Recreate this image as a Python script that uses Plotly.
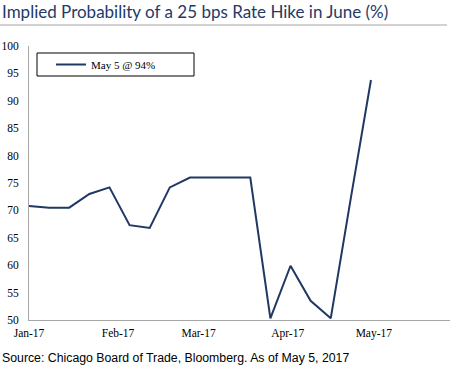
import plotly.graph_objects as go

dates = ["2017-01-06", "2017-01-13", "2017-01-20", "2017-01-27", "2017-02-03",
         "2017-02-10", "2017-02-17", "2017-02-24", "2017-03-03", "2017-03-10",
         "2017-03-17", "2017-03-24", "2017-03-31", "2017-04-07", "2017-04-14",
         "2017-04-21", "2017-04-28", "2017-05-05"]
probability = [70.8, 70.5, 70.5, 73.0, 74.2, 67.3, 66.8, 74.2, 76.0, 76.0,
               76.0, 76.0, 50.3, 59.9, 53.5, 50.3, 72.3, 93.8]
series_name = "May 5 @ 94%"
title_text = "Implied Probability of a 25 bps Rate Hike in June (%)"
source_text = "Source: Chicago Board of Trade, Bloomberg. As of May 5, 2017"

W, H = 450, 369
L, R, T, B = 29, 0, 46, 49
pw, ph = W - L - R, H - T - B

def px(x):
    return (x - L) / pw

def py(y):
    return (H - B - y) / ph

fig = go.Figure()
fig.add_trace(go.Scatter(
    x=dates, y=probability, mode="lines", name=series_name,
    line=dict(color="#1f3864", width=2),
))

serif = "Liberation Serif"
fig.update_layout(
    width=W, height=H,
    margin=dict(l=L, r=R, t=T, b=B),
    paper_bgcolor="white", plot_bgcolor="white",
    showlegend=True,
    legend=dict(
        x=px(51), y=py(64.5), xanchor="left", yanchor="middle",
        bgcolor="rgba(0,0,0,0)", borderwidth=0,
        font=dict(family=serif, size=11, color="#000000"),
        itemwidth=30,
    ),
    xaxis=dict(
        type="date",
        range=["2017-01-06", "2017-06-01 12:00"],
        tick0="2017-01-06", dtick="M1", tickformat="%b-%y",
        showgrid=False, zeroline=False,
        showline=True, linecolor="#a6a6a6", linewidth=1,
        ticks="outside", ticklen=2, tickcolor="rgba(0,0,0,0)",
        tickfont=dict(family=serif, size=11.5, color="#000000"),
    ),
    yaxis=dict(
        range=[50, 100], dtick=5, tick0=50,
        showgrid=False, zeroline=False,
        showline=True, linecolor="#a6a6a6", linewidth=1,
        ticks="outside", ticklen=7, tickcolor="rgba(0,0,0,0)",
        tickfont=dict(family=serif, size=11.5, color="#000000"),
    ),
    shapes=[
        dict(type="rect", xref="paper", yref="paper",
             x0=px(37), x1=px(194), y0=py(76), y1=py(53),
             line=dict(color="#000000", width=1), fillcolor="rgba(0,0,0,0)"),
        dict(type="line", xref="paper", yref="paper",
             x0=px(0), x1=px(447), y0=py(25), y1=py(25),
             line=dict(color="#a6a6a6", width=1)),
    ],
    annotations=[
        dict(text=title_text, xref="paper", yref="paper",
             x=px(0), y=py(11), xanchor="left", yanchor="middle",
             showarrow=False,
             font=dict(family="Lato", size=17, color="#1f3a68", weight=400)),
        dict(text=source_text, xref="paper", yref="paper",
             x=px(0), y=py(358), xanchor="left", yanchor="middle",
             showarrow=False,
             font=dict(family="Liberation Sans", size=12.3, color="#000000")),
    ],
)

fig.write_html("out.html", config={"displayModeBar": False},
               post_script="document.body.style.margin='0';document.body.style.overflow='hidden';")
